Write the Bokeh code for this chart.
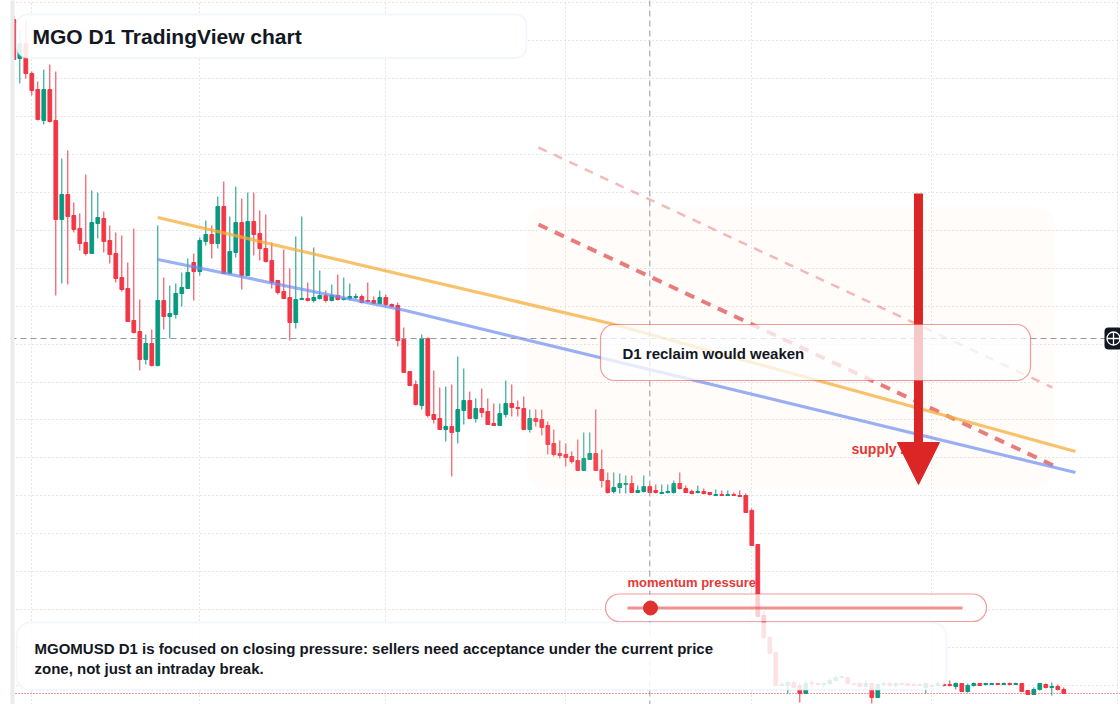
import numpy as np
from bokeh.plotting import figure
from bokeh.models import (Range1d, BoxAnnotation, Label, Span, Arrow, NormalHead,
                          Grid, FixedTicker, ColumnDataSource)
from bokeh.embed import file_html
from bokeh.resources import INLINE

# ---------------- data: MGOUSD daily candles, prices in pips (1 pip = 0.0001 USD)
open_pips = [981, 942, 957, 927, 911, 880, 911, 880, 781, 806, 785, 772, 758, 747, 777, 782, 760, 747, 723, 712,
             680, 669, 641, 657, 635, 700, 684, 686, 707, 712, 738, 729, 759, 766, 757, 794, 727, 748, 778, 725,
             779, 767, 752, 740, 720, 709, 703, 678, 701, 702, 700, 702, 705, 700, 705, 701, 702, 703, 704, 700,
             700, 697, 703, 696, 695, 661, 629, 616, 595, 662, 586, 582, 571, 574, 569, 590, 600, 582, 592, 589,
             577, 575, 586, 597, 593, 592, 571, 582, 581, 575, 557, 547, 546, 544, 540, 530, 541, 547, 531, 520,
             509, 513, 516, 517, 508, 509, 514, 510, 507, 508, 508, 517, 512, 509, 508, 509, 508, 505, 506, 505,
             506, 505, 505, 490, 456, 385, 363, 348, 315, 315, 318, 315, 307, 318, 317, 316, 317, 320, 323, 323,
             317, 317, 314, 317, 303, 316, 317, 315, 317, 317, 316, 316, 313, 315, 315, 316, 316, 314, 317, 309,
             315, 317, 316, 316, 317, 316, 317, 316, 317, 310, 306, 311, 316, 313, 314, 311]
high_pips = [985, 970, 980, 929, 919, 931, 936, 929, 842, 850, 798, 787, 826, 810, 808, 789, 775, 768, 765, 738,
             772, 701, 666, 671, 775, 723, 715, 717, 728, 742, 747, 763, 780, 775, 804, 819, 784, 814, 802, 808,
             808, 790, 786, 758, 720, 751, 732, 764, 784, 718, 753, 730, 710, 716, 726, 723, 717, 707, 706, 718,
             704, 710, 706, 697, 698, 673, 629, 620, 666, 663, 630, 613, 614, 616, 644, 632, 609, 602, 612, 602,
             597, 597, 620, 616, 600, 604, 591, 591, 591, 579, 571, 560, 557, 549, 561, 568, 568, 591, 551, 528,
             528, 527, 525, 525, 515, 525, 516, 516, 516, 516, 520, 528, 515, 511, 515, 512, 508, 511, 510, 510,
             508, 510, 507, 492, 456, 389, 363, 348, 319, 320, 320, 318, 320, 320, 318, 318, 322, 325, 325, 324,
             317, 318, 321, 317, 317, 319, 319, 318, 317, 317, 318, 317, 317, 316, 319, 319, 320, 318, 317, 317,
             318, 317, 317, 317, 317, 318, 318, 318, 317, 310, 313, 317, 317, 318, 316, 313]
low_pips = [941, 917, 922, 905, 880, 876, 878, 705, 717, 716, 768, 750, 745, 747, 762, 748, 737, 718, 709, 679,
            667, 630, 636, 634, 634, 671, 662, 682, 694, 712, 700, 725, 755, 742, 752, 727, 727, 743, 711, 725,
            745, 740, 738, 712, 706, 702, 660, 672, 701, 699, 698, 701, 698, 699, 700, 700, 700, 701, 697, 698,
            697, 696, 694, 693, 654, 628, 615, 595, 591, 583, 577, 571, 559, 524, 557, 576, 582, 578, 583, 576,
            575, 575, 583, 584, 584, 571, 568, 574, 565, 546, 544, 542, 534, 537, 530, 530, 541, 530, 513, 507,
            507, 507, 507, 508, 508, 508, 507, 507, 507, 507, 507, 511, 508, 506, 507, 506, 505, 505, 505, 505,
            505, 504, 488, 455, 384, 362, 347, 315, 315, 307, 313, 298, 307, 313, 315, 313, 316, 319, 322, 316,
            315, 313, 313, 297, 303, 314, 314, 313, 316, 315, 315, 315, 307, 314, 314, 314, 314, 311, 309, 308,
            314, 315, 315, 316, 316, 316, 315, 316, 309, 306, 306, 310, 312, 305, 310, 307]
close_pips = [941, 957, 927, 910, 881, 911, 879, 781, 806, 784, 771, 757, 747, 778, 783, 759, 746, 722, 711, 679,
              668, 641, 657, 635, 700, 684, 687, 707, 713, 728, 729, 760, 766, 757, 794, 727, 749, 778, 725, 779,
              766, 752, 739, 718, 708, 702, 678, 701, 702, 700, 703, 705, 700, 705, 701, 702, 704, 704, 698, 699,
              697, 703, 696, 694, 660, 628, 615, 596, 662, 585, 581, 571, 574, 568, 591, 600, 582, 592, 588, 576,
              575, 587, 597, 593, 592, 571, 582, 579, 573, 556, 546, 545, 543, 539, 530, 542, 547, 530, 520, 508,
              513, 517, 517, 508, 510, 514, 508, 508, 508, 509, 517, 512, 508, 507, 509, 507, 506, 506, 505, 506,
              505, 504, 488, 455, 384, 363, 347, 315, 316, 318, 313, 307, 317, 317, 316, 317, 320, 323, 324, 317,
              316, 314, 317, 303, 316, 317, 315, 317, 316, 315, 315, 315, 317, 314, 317, 315, 315, 317, 309, 315,
              317, 315, 317, 317, 316, 317, 316, 317, 309, 306, 311, 317, 313, 314, 311, 307]

# month separators (candle index) for the vertical grid
month_ticks = [3, 31, 62, 92, 123, 153, 184]

# chart drawings: (candle index, price)
orange_trend_x = [24.0, 99.45, 176.95]
orange_trend_y = [0.0783, 0.0677, 0.0549]
blue_trend_x = [24.0, 65.28, 176.95]
blue_trend_y = [0.0741, 0.0690, 0.0528]
red_channel_x = [87.45, 173.28]
red_channel_y = [0.0776, 0.0535]
faded_channel_x = [87.45, 173.1]
faded_channel_y = [0.0853, 0.0613]
arrow_x = 150.78
arrow_y = [0.0807, 0.0516]
crosshair_index = 106
crosshair_price = 0.0662

# ---------------- layout helpers (screen pixel -> data)
X0, DX = 13.3, 6.0


def ix(px):
    return (px - X0) / DX


def py(pyy):
    return (1000.0 - pyy) / 1e4


o = np.array(open_pips) / 1e4
h = np.array(high_pips) / 1e4
l = np.array(low_pips) / 1e4
c = np.array(close_pips) / 1e4
idx = np.arange(len(o))

RED = "#f23645"
GREEN = "#089981"
colors = np.where(c >= o, GREEN, RED)

p = figure(width=1120, height=704, x_range=Range1d(ix(0), ix(1120)), y_range=Range1d(py(704), py(0)),
           toolbar_location=None, output_backend="svg", x_axis_location=None, y_axis_location=None,
           min_border=0)
p.outline_line_color = None
p.background_fill_color = "white"
p.border_fill_color = "white"
for g in p.grid:
    g.visible = False

ygrid_ticks = [py(2.1 + 37.94 * k) for k in range(19)]
p.add_layout(Grid(dimension=1, ticker=FixedTicker(ticks=ygrid_ticks), grid_line_color="#c9ccd2",
                  grid_line_dash="1 3", grid_line_width=1))
p.add_layout(Grid(dimension=0, ticker=FixedTicker(ticks=month_ticks), grid_line_color="#c9ccd2",
                  grid_line_dash="1 3", grid_line_width=1))

src = ColumnDataSource(dict(x=idx, top=np.maximum(o, c), bottom=np.minimum(o, c), high=h, low=l,
                            color=colors))
p.segment(x0="x", y0="low", x1="x", y1="high", line_color="color", line_width=1, source=src)
p.vbar(x="x", width=0.62, top="top", bottom="bottom", fill_color="color", line_color="color",
       line_width=1, source=src)

# supply zone shading
p.add_layout(BoxAnnotation(left=ix(527), right=ix(1053), top=py(207), bottom=py(487),
                           fill_color="#fbe3d2", fill_alpha=0.1, line_color=None,
                           border_radius=16, level="glyph"))

# crosshair and last price line
p.add_layout(Span(location=crosshair_index, dimension="height", line_color="#9598a1",
                  line_dash="6 4", line_width=1, level="guide"))
p.add_layout(Span(location=crosshair_price, dimension="width", line_color="#9598a1",
                  line_dash="6 4", line_width=1, level="guide"))
p.add_layout(Span(location=c[-1], dimension="width", line_color=RED,
                  line_dash="1 2", line_width=1, level="guide"))

# trend lines
r1 = p.line(faded_channel_x, faded_channel_y, line_color="#e05252", line_alpha=0.4,
            line_width=2.5, line_dash="9 8")
r2 = p.line(red_channel_x, red_channel_y, line_color="#e05252", line_alpha=0.75,
            line_width=4, line_dash="10 8")
r3 = p.line(orange_trend_x, orange_trend_y, line_color="#f6ad3c", line_alpha=0.75, line_width=3.2)
r4 = p.line(blue_trend_x, blue_trend_y, line_color="#6f8ff0", line_alpha=0.7, line_width=3.2)
for r in (r1, r2, r3, r4):
    r.level = "guide"

# left edge strip
p.add_layout(BoxAnnotation(left=ix(-5), right=ix(10), top=py(-5), bottom=py(710),
                           fill_color="white", fill_alpha=1, line_color=None))
p.add_layout(BoxAnnotation(left=ix(10), right=ix(14), top=py(-5), bottom=py(710),
                           fill_color="#ebebeb", fill_alpha=1, line_color=None))

FONT = "Liberation Sans"
TXT = "#131722"
RTXT = "#e53935"
BLUE_EDGE = "#d3e2f8"

p.add_layout(Label(x=ix(851), y=py(448), text="supply zone", text_font=FONT, text_font_style="bold",
                   text_font_size="14px", text_color=RTXT, text_baseline="middle"))

p.add_layout(Arrow(end=NormalHead(size=42, fill_color="#dc2626", line_color="#dc2626", line_width=1),
                   x_start=arrow_x, y_start=arrow_y[0], x_end=arrow_x, y_end=arrow_y[1],
                   line_color="#dc2626", line_width=9))

# boxes
p.add_layout(BoxAnnotation(left=ix(16), right=ix(526), top=py(14), bottom=py(57.5),
                           fill_color="white", fill_alpha=0.88, line_color=BLUE_EDGE,
                           line_width=1.8, border_radius=11))
p.add_layout(BoxAnnotation(left=ix(600), right=ix(1030), top=py(324), bottom=py(380),
                           fill_color="white", fill_alpha=0.75, line_color="#e53935",
                           line_alpha=0.5, line_width=1.2, border_radius=14))
p.add_layout(BoxAnnotation(left=ix(605), right=ix(986), top=py(593.5), bottom=py(621),
                           fill_color="white", fill_alpha=0.76, line_color="#e53935",
                           line_alpha=0.5, line_width=1.2, border_radius=14))
p.add_layout(BoxAnnotation(left=ix(16), right=ix(946), top=py(622), bottom=py(689.5),
                           fill_color="white", fill_alpha=0.86, line_color=BLUE_EDGE,
                           line_width=1.8, border_radius=14))
p.add_layout(BoxAnnotation(left=ix(1104), right=ix(1122), top=py(327), bottom=py(349),
                           fill_color="#131722", fill_alpha=1, line_color=None, border_radius=4))

# texts
p.add_layout(Label(x=ix(32), y=py(36), text="MGO D1 TradingView chart", text_font=FONT,
                   text_font_style="bold", text_font_size="21px", text_color=TXT, text_baseline="middle"))
p.add_layout(Label(x=ix(622), y=py(353), text="D1 reclaim would weaken", text_font=FONT,
                   text_font_style="bold", text_font_size="15px", text_color=TXT, text_baseline="middle"))
p.add_layout(Label(x=ix(34), y=py(648),
                   text="MGOMUSD D1 is focused on closing pressure: sellers need acceptance under the current price",
                   text_font=FONT, text_font_style="bold", text_font_size="15px", text_color=TXT,
                   text_baseline="middle"))
p.add_layout(Label(x=ix(34), y=py(667.5), text="zone, not just an intraday break.", text_font=FONT,
                   text_font_style="bold", text_font_size="15px", text_color=TXT, text_baseline="middle"))
p.add_layout(Label(x=ix(627), y=py(582), text="momentum pressure", text_font=FONT, text_font_style="bold",
                   text_font_size="13px", text_color=RTXT, text_baseline="middle"))

# momentum gauge
m_line = p.line([ix(627), ix(962)], [py(607.5), py(607.5)], line_color="#e53935", line_alpha=0.55,
                line_width=3)
m_line.level = "overlay"
m_dot = p.scatter([ix(650)], [py(607.5)], size=14, fill_color="#e03131", line_color="#e03131")
m_dot.level = "overlay"

# crosshair "+" icon
icon = p.scatter([ix(1113)], [py(338)], marker="circle_cross", size=13, fill_color=None,
                 line_color="white", line_width=1.3)
icon.level = "overlay"

open("out.html", "w").write(file_html(p, INLINE))
